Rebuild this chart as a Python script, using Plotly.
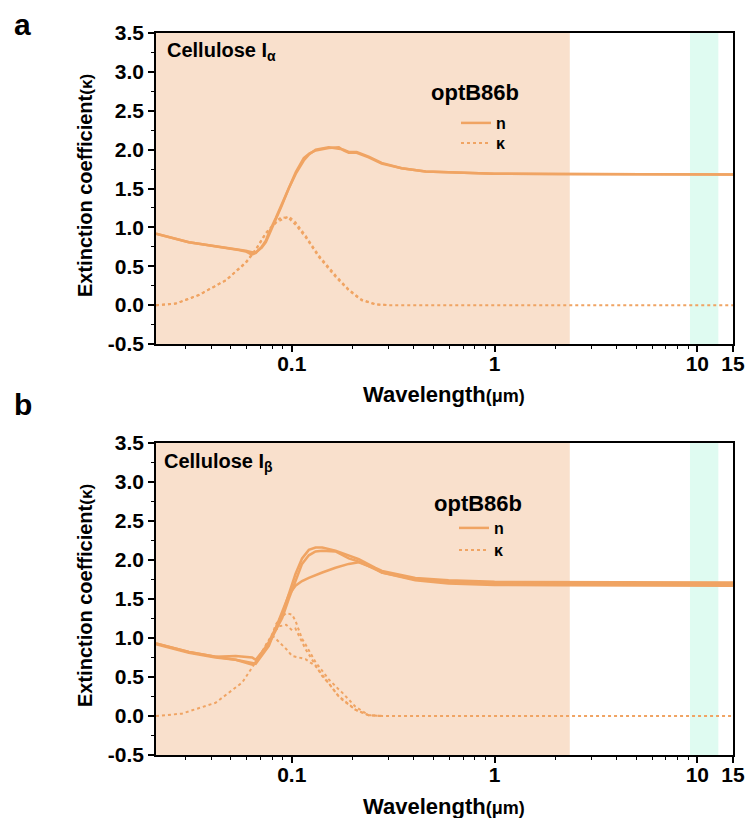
import math
import plotly.graph_objects as go

# ---------------- data (wavelength in µm) ----------------
# Panel a : Cellulose Iα
A_N1_WL = [0.0214, 0.0248, 0.0311, 0.0348, 0.0422, 0.0473, 0.0548, 0.0593, 0.0635, 0.0665, 0.0711,
           0.0745, 0.0771, 0.0834, 0.0893, 0.0966, 0.1047, 0.1146, 0.1220, 0.1312, 0.1420, 0.1521,
           0.1706, 0.1800, 0.1910, 0.2090, 0.2394, 0.2775, 0.3483, 0.4571, 0.5929, 1.0, 2.0, 5.0, 15.0]
A_N1 = [0.92, 0.88, 0.81, 0.79, 0.76, 0.74, 0.71, 0.69, 0.65, 0.67, 0.75,
        0.83, 0.93, 1.12, 1.30, 1.51, 1.71, 1.89, 1.95, 1.99, 2.01, 2.02,
        2.03, 1.99, 1.96, 1.96, 1.90, 1.82, 1.76, 1.72, 1.71, 1.69, 1.685, 1.68, 1.68]
A_N2 = [0.92, 0.88, 0.81, 0.79, 0.76, 0.74, 0.72, 0.70, 0.68, 0.68, 0.74,
        0.81, 0.90, 1.10, 1.28, 1.50, 1.69, 1.86, 1.94, 2.00, 2.02, 2.03,
        2.01, 2.00, 1.97, 1.97, 1.91, 1.83, 1.76, 1.72, 1.71, 1.69, 1.685, 1.68, 1.68]

A_K_WL = [0.0214, 0.0268, 0.0348, 0.0473, 0.0593, 0.0665, 0.0745, 0.0844, 0.0893, 0.0966, 0.1047,
          0.1172, 0.1358, 0.1648, 0.1910, 0.2213, 0.2594, 0.30, 1.0, 15.0]
A_K1 = [0.0, 0.02, 0.13, 0.32, 0.54, 0.71, 0.92, 1.09, 1.13, 1.12, 1.03,
        0.87, 0.62, 0.36, 0.19, 0.06, 0.01, 0.0, 0.0, 0.0]
A_K2_WL = [0.0214, 0.0268, 0.0348, 0.0473, 0.0593, 0.0665, 0.0745, 0.0844, 0.0893, 0.0966, 0.1047,
           0.1172, 0.1358, 0.1648, 0.1910, 0.2213, 0.2594, 0.30]
A_K2 = [0.0, 0.02, 0.13, 0.32, 0.55, 0.72, 0.93, 1.07, 1.10, 1.14, 1.06,
        0.89, 0.64, 0.38, 0.20, 0.07, 0.01, 0.0]

# Panel b : Cellulose Iβ
B_N_WL = [0.0214, 0.0311, 0.0421, 0.0529, 0.0638, 0.0664, 0.0771, 0.0898, 0.0966, 0.1043, 0.1124,
          0.1214, 0.1310, 0.1414, 0.1643, 0.1910, 0.2141, 0.2585, 0.2785, 0.4068, 0.5930, 1.0, 2.0, 15.0]
B_N1 = [0.93, 0.82, 0.76, 0.72, 0.66, 0.69, 0.95, 1.30, 1.56, 1.82, 2.02,
        2.13, 2.16, 2.16, 2.12, 2.06, 2.01, 1.90, 1.86, 1.77, 1.74, 1.72, 1.715, 1.71]
B_N2 = [0.93, 0.82, 0.76, 0.77, 0.75, 0.72, 0.93, 1.26, 1.50, 1.72, 1.95,
        2.06, 2.11, 2.12, 2.11, 2.02, 1.98, 1.88, 1.84, 1.75, 1.72, 1.70, 1.695, 1.69]
B_N3 = [0.92, 0.81, 0.75, 0.72, 0.68, 0.67, 0.90, 1.33, 1.55, 1.67, 1.73,
        1.77, 1.81, 1.84, 1.90, 1.95, 1.97, 1.89, 1.84, 1.74, 1.70, 1.68, 1.675, 1.67]

B_K1_WL = [0.0214, 0.0287, 0.0421, 0.0570, 0.0664, 0.0742, 0.0802, 0.0834, 0.0867, 0.0938, 0.1003,
           0.1043, 0.1124, 0.1168, 0.1310, 0.1414, 0.1522, 0.1706, 0.1773, 0.2061, 0.2394, 0.28, 1.0, 15.0]
B_K1 = [0.0, 0.03, 0.17, 0.43, 0.69, 0.90, 1.05, 1.17, 1.24, 1.32, 1.30,
        1.22, 0.99, 0.92, 0.69, 0.58, 0.47, 0.34, 0.30, 0.12, 0.01, 0.0, 0.0, 0.0]
B_K23_WL = [0.0742, 0.0802, 0.0834, 0.0867, 0.0938, 0.1003,
            0.1043, 0.1124, 0.1168, 0.1310, 0.1414, 0.1522, 0.1706, 0.1773, 0.2061, 0.2394, 0.28]
B_K2 = [0.90, 1.02, 1.10, 1.15, 1.17, 1.10,
        1.12, 0.94, 0.86, 0.65, 0.51, 0.42, 0.25, 0.22, 0.08, 0.01, 0.0]
B_K3 = [0.90, 1.03, 0.99, 0.95, 0.86, 0.77,
        0.76, 0.74, 0.73, 0.64, 0.53, 0.43, 0.25, 0.21, 0.08, 0.01, 0.0]

# spectral bands
BAND_SOLAR = [0.0214, 2.35]
BAND_WINDOW = [9.2, 12.7]
X_RANGE = [0.0214, 15.0]
Y_RANGE = [-0.5, 3.5]

X_TICKS = [0.1, 1, 10, 15]
X_TICKTEXT = ["0.1", "1", "10", "15"]
X_MINOR = [0.03, 0.04, 0.05, 0.06, 0.07, 0.08, 0.09,
           0.2, 0.3, 0.4, 0.5, 0.6, 0.7, 0.8, 0.9,
           2, 3, 4, 5, 6, 7, 8, 9]
Y_TICKS = [-0.5, 0.0, 0.5, 1.0, 1.5, 2.0, 2.5, 3.0, 3.5]
Y_TICKTEXT = ["-0.5", "0.0", "0.5", "1.0", "1.5", "2.0", "2.5", "3.0", "3.5"]

# ---------------- styling ----------------
W, H = 751, 818
L, R, T, B = 156, 18, 33, 63
PW, PH = W - L - R, H - T - B
def px(x):
    return (x - L) / PW
def py(y):
    return (H - B - y) / PH

LINE = '#F0A463'
PEACH = '#F9E0CC'
MINT = '#DFFBF1'
FONT = 'Liberation Sans'

fig = go.Figure()

panels = [
    dict(xa='x', ya='y', legn='legend', legk='legend2',
         n=[(A_N1_WL, A_N1), (A_N1_WL, A_N2)],
         k=[(A_K_WL, A_K1), (A_K2_WL, A_K2)]),
    dict(xa='x2', ya='y2', legn='legend3', legk='legend4',
         n=[(B_N_WL, B_N1), (B_N_WL, B_N2), (B_N_WL, B_N3)],
         k=[(B_K1_WL, B_K1), (B_K23_WL, B_K2), (B_K23_WL, B_K3)]),
]

for p in panels:
    for band, col in ((BAND_SOLAR, PEACH), (BAND_WINDOW, MINT)):
        fig.add_trace(go.Scatter(
            x=[band[0], band[1], band[1], band[0], band[0]],
            y=[Y_RANGE[0], Y_RANGE[0], Y_RANGE[1], Y_RANGE[1], Y_RANGE[0]],
            fill='toself', fillcolor=col, mode='lines', line=dict(width=0),
            showlegend=False, hoverinfo='skip', xaxis=p['xa'], yaxis=p['ya']))
    for i, (wl, v) in enumerate(p['k']):
        fig.add_trace(go.Scatter(
            x=wl, y=v, mode='lines', name='κ', legend=p['legk'],
            line=dict(color=LINE, width=2, dash='dot'),
            showlegend=(i == 0), xaxis=p['xa'], yaxis=p['ya']))
    for i, (wl, v) in enumerate(p['n']):
        fig.add_trace(go.Scatter(
            x=wl, y=v, mode='lines', name='n', legend=p['legn'],
            line=dict(color=LINE, width=2.5),
            showlegend=(i == 0), xaxis=p['xa'], yaxis=p['ya']))

axis_common = dict(
    showline=True, linecolor='black', linewidth=1.6, mirror=True,
    ticks='outside', ticklen=6, tickwidth=1.6, tickcolor='black',
    showgrid=False, zeroline=False, automargin=False, ticklabeloverflow='allow',
    tickfont=dict(family=FONT, size=21, color='black', weight=700),
)
xaxis_common = dict(axis_common, type='log',
                    range=[math.log10(X_RANGE[0]), math.log10(X_RANGE[1])],
                    tickmode='array', tickvals=X_TICKS, ticktext=X_TICKTEXT,
                    ticklabelstandoff=-6,
                    minor=dict(tickmode='array', tickvals=X_MINOR, ticks='outside',
                               ticklen=3.5, tickwidth=1.4, tickcolor='black'))
yaxis_common = dict(axis_common, range=Y_RANGE,
                    tickmode='array', tickvals=Y_TICKS, ticktext=Y_TICKTEXT,
                    minor=dict(dtick=0.25, tick0=0, ticks='outside', ticklen=3.5,
                               tickwidth=1.4, tickcolor='black'))

dom_a = [py(344), 1.0]
dom_b = [0.0, py(443)]

def leg(xpix, ypix):
    return dict(font=dict(family=FONT, size=16, color='black', weight=700),
                bgcolor='rgba(0,0,0,0)', borderwidth=0,
                xanchor='left', yanchor='middle', x=px(xpix), y=py(ypix))

fig.update_layout(
    width=W, height=H, margin=dict(l=L, r=R, t=T, b=B, autoexpand=False),
    paper_bgcolor='white', plot_bgcolor='white',
    xaxis=dict(xaxis_common, domain=[0, 1], anchor='y'),
    yaxis=dict(yaxis_common, domain=dom_a, anchor='x'),
    xaxis2=dict(xaxis_common, domain=[0, 1], anchor='y2'),
    yaxis2=dict(yaxis_common, domain=dom_b, anchor='x2'),
    legend=leg(456, 123),
    legend2=leg(456, 143),
    legend3=leg(454, 528),
    legend4=leg(454, 550),
)

ann = []
def add_text(text, x, y, size, xanchor='center', angle=0):
    ann.append(dict(text=text, x=px(x), y=py(y), xref='paper', yref='paper',
                    xanchor=xanchor, yanchor='middle', showarrow=False, textangle=angle,
                    font=dict(family=FONT, size=size, color='black', weight=700)))

add_text('a', 12, 24, 30, xanchor='left')
add_text('b', 12, 404, 30, xanchor='left')
add_text('Cellulose I<sub>α</sub>', 165, 52, 20, xanchor='left')
add_text('Cellulose I<sub>β</sub>', 162, 462, 20, xanchor='left')
add_text('optB86b', 475, 93, 22)
add_text('optB86b', 478, 503, 22)
ytitle = "Extinction coefficient<span style='font-size:17px'>(κ)</span>"
add_text(ytitle, 85, 186, 20, angle=-90)
add_text(ytitle, 85, 596, 20, angle=-90)
xtitle = "Wavelength<span style='font-size:18px'>(μm)</span>"
add_text(xtitle, 444, 394, 22)
add_text(xtitle, 444, 806, 22)
fig.update_layout(annotations=ann)

fig.write_html("out.html", config={'displayModeBar': False},
               post_script="document.body.style.margin='0';document.body.style.overflow='hidden';")
